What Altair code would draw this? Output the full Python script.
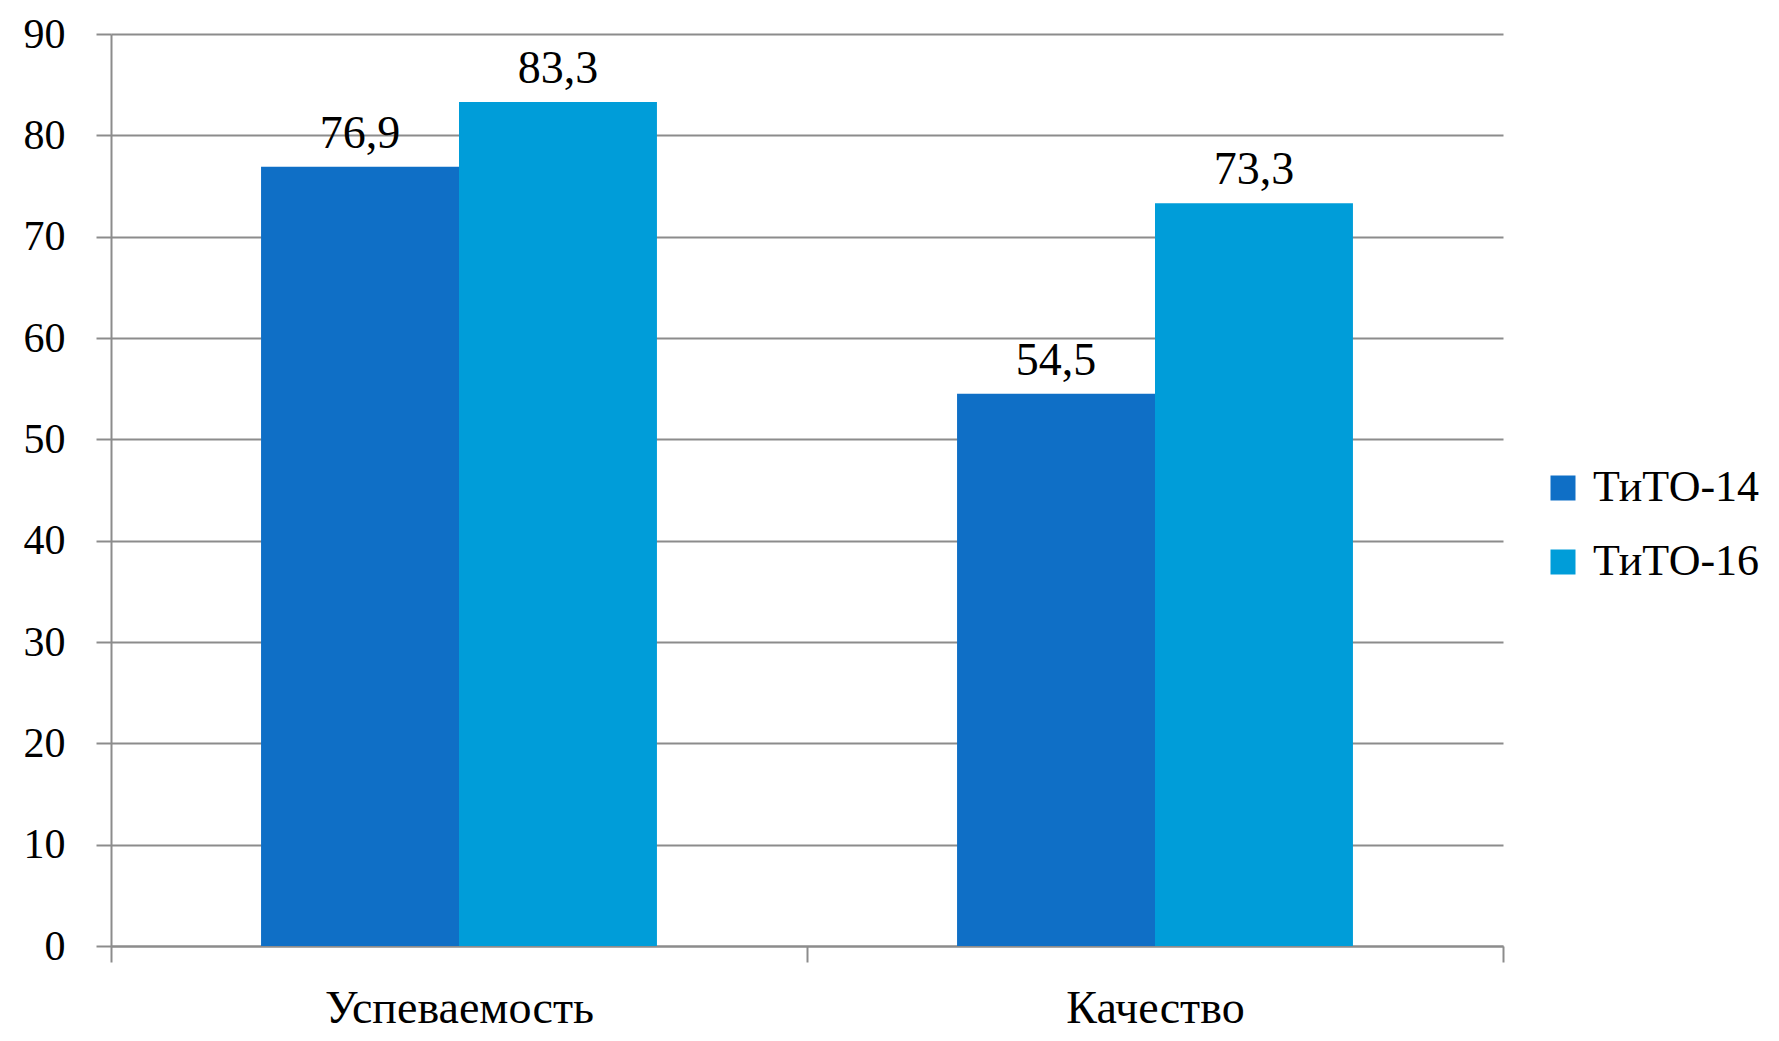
import altair as alt
import pandas as pd

categories = ["Успеваемость", "Качество"]
series = ["ТиТО-14", "ТиТО-16"]
values_tito14 = [76.9, 54.5]
values_tito16 = [83.3, 73.3]
colors = ["#0F6FC6", "#009DD9"]
y_ticks = [0, 10, 20, 30, 40, 50, 60, 70, 80, 90]

rows = []
for i, c in enumerate(categories):
    rows.append({"cat": c, "series": series[0], "value": values_tito14[i]})
    rows.append({"cat": c, "series": series[1], "value": values_tito16[i]})
df = pd.DataFrame(rows)

FONT = "Liberation Serif"
GRAY = "#8C8C8C"

base = alt.Chart(df).encode(
    x=alt.X(
        "cat:N",
        sort=categories,
        scale=alt.Scale(paddingInner=0, paddingOuter=0),
        axis=alt.Axis(
            title=None,
            labelAngle=0,
            tickBand="extent",
            tickSize=16,
            tickColor=GRAY,
            tickWidth=2,
            domainColor=GRAY,
            domainWidth=2,
            labelFont=FONT,
            labelFontSize=46,
            labelColor="#000000",
            labelPadding=24,
            labelLimit=0,
            grid=False,
        ),
    ),
    xOffset=alt.XOffset(
        "series:N",
        sort=series,
        scale=alt.Scale(paddingInner=0, paddingOuter=0.758),
    ),
    y=alt.Y(
        "value:Q",
        scale=alt.Scale(domain=[0, 90], nice=False),
        axis=alt.Axis(
            title=None,
            values=y_ticks,
            tickSize=15,
            tickColor=GRAY,
            tickWidth=2,
            domainColor=GRAY,
            domainWidth=2,
            grid=True,
            gridColor=GRAY,
            gridWidth=2,
            labelFont=FONT,
            labelFontSize=42,
            labelColor="#000000",
            labelPadding=31,
        ),
    ),
)

bars = base.mark_bar().encode(
    color=alt.Color(
        "series:N",
        sort=series,
        scale=alt.Scale(domain=series, range=colors),
        legend=alt.Legend(
            title=None,
            orient="none",
            legendX=1430,
            legendY=432,
            symbolType="square",
            symbolSize=625,
            symbolStrokeWidth=0,
            labelFont=FONT,
            labelFontSize=44,
            labelColor="#000000",
            labelOffset=8,
            labelLimit=0,
            rowPadding=30,
            padding=0,
        ),
    )
)

text = base.mark_text(
    baseline="alphabetic", dy=-19, font=FONT, fontSize=46, color="#000000"
).transform_calculate(
    label="replace(format(datum.value, '.1f'), '.', ',')"
).encode(text="label:N")

chart = (
    alt.layer(bars, text)
    .properties(
        width=1392,
        height=912,
        autosize=alt.AutoSizeParams(type="none"),
        padding={"left": 103, "top": 26, "right": 268, "bottom": 87},
        background="#FFFFFF",
    )
    .configure_view(stroke=None)
)

chart.save("out.html", embed_options={"renderer": "svg", "actions": False})
